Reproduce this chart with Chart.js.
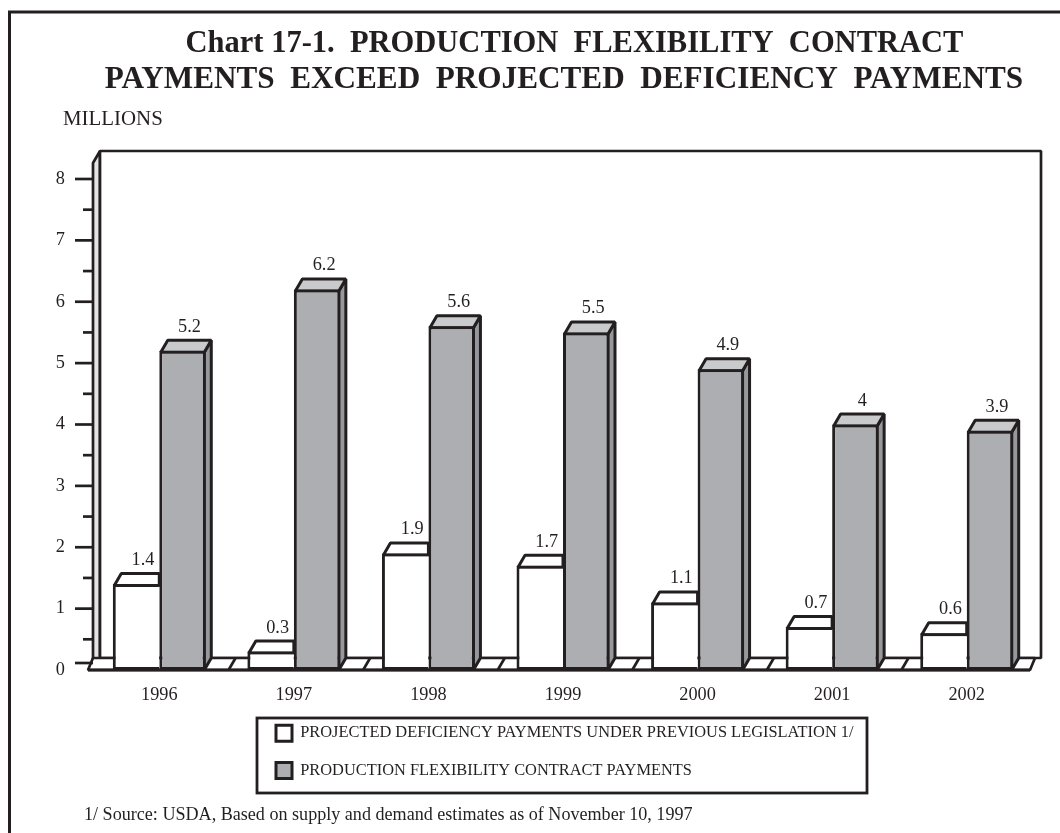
<!DOCTYPE html>
<html><head><meta charset="utf-8">
<style>html,body{margin:0;padding:0;background:#fff}canvas{display:block}</style>
<script src="https://cdn.jsdelivr.net/npm/chart.js@4"></script>
</head><body><canvas id="c" width="1060" height="833"></canvas>
<script>
const years = ['1996','1997','1998','1999','2000','2001','2002'];
const deficiency = [1.4,0.3,1.9,1.7,1.1,0.7,0.6];
const flexibility = [5.2,6.2,5.6,5.5,4.9,4,3.9];
const seriesNames = ['PROJECTED DEFICIENCY PAYMENTS UNDER PREVIOUS LEGISLATION 1/','PRODUCTION FLEXIBILITY CONTRACT PAYMENTS'];
const titleLines = ['Chart 17-1.  PRODUCTION  FLEXIBILITY  CONTRACT','PAYMENTS  EXCEED  PROJECTED  DEFICIENCY  PAYMENTS'];
const yLabel = 'MILLIONS';
const footnote = '1/ Source: USDA, Based on supply and demand estimates as of November 10, 1997';

const INK='#231f20', GREY='#adaeb2', CAP='#c9cacc', SIDE='#97989c', WALL='#e4e4e6', SERIF='"Liberation Serif"';
const DX=7, DY=12, LW=3, H=LW/2;
function poly(ctx,pts,fill){
  ctx.beginPath();pts.forEach((p,i)=>i?ctx.lineTo(p[0],p[1]):ctx.moveTo(p[0],p[1]));ctx.closePath();
  if(fill){ctx.fillStyle=fill;ctx.fill();}
  ctx.stroke();
}
const scene={
  id:'scene',
  beforeDraw(chart){
    const {ctx,width}=chart;
    ctx.save();
    ctx.strokeStyle=INK;ctx.lineWidth=3;
    ctx.beginPath();ctx.moveTo(9.5,833);ctx.lineTo(9.5,12);ctx.lineTo(width,12);ctx.stroke();
    ctx.lineWidth=2.8;
    ctx.strokeRect(257,718,610,75);
    ctx.fillStyle=INK;ctx.textBaseline='alphabetic';ctx.textAlign='center';
    ctx.font='bold 30.5px '+SERIF;
    ctx.fillText(titleLines[0],574.5,52);
    ctx.font='bold 31.2px '+SERIF;
    ctx.fillText(titleLines[1],564,88);
    ctx.restore();
    chart.legend.left=255;chart.legend.right=865;chart.legend.top=704;chart.legend.bottom=830;
  },
  beforeDatasetsDraw(chart){
    const {ctx,chartArea:a,scales:{x,y}}=chart;
    const y0=y.getPixelForValue(0);
    ctx.save();
    ctx.strokeStyle=INK;ctx.lineWidth=2.7;ctx.lineJoin='bevel';
    const L=a.left+1, wallL=L+7, wallR=1041, wallB=y0-12, wallT=151;
    poly(ctx,[[L,y0],[L,163],[wallL,wallT],[wallL,wallB]],WALL);
    poly(ctx,[[wallL,wallT],[wallR,wallT],[wallR,wallB],[wallL,wallB]],'#fff');
    const fl=a.left-4, fr=a.right-4;
    poly(ctx,[[fl,y0],[fl+5,wallB],[wallR-6,wallB],[fr,y0]],'#fff');
    for(let i=1;i<years.length;i++){
      const b=(x.getPixelForValue(i-1)+x.getPixelForValue(i))/2+2;
      ctx.beginPath();ctx.moveTo(b,y0);ctx.lineTo(b+DX,wallB);ctx.stroke();
    }
    y.ticks.forEach(t=>{
      const major=Number.isInteger(t.value), p=t.value===0?y0-7:y.getPixelForValue(t.value);
      ctx.beginPath();ctx.moveTo(major?75:83,p);ctx.lineTo(L,p);ctx.stroke();
    });
    ctx.lineWidth=LW;
    const m0=chart.getDatasetMeta(0).data, m1=chart.getDatasetMeta(1).data;
    m0.forEach(b=>{
      const l=b.x-b.width/2+H,r=b.x+b.width/2,t=b.y+H;
      poly(ctx,[[l,t],[l+DX,t-DY],[r,t-DY],[r,t]],'#fff');
    });
    m1.forEach(b=>{
      const l=b.x-b.width/2+H,r=b.x+b.width/2-H,t=b.y+H;
      poly(ctx,[[r,t],[r+DX,t-DY],[r+DX,y0-DY],[r,y0]],SIDE);
      poly(ctx,[[l,t],[l+DX,t-DY],[r+DX,t-DY],[r,t]],CAP);
    });
    ctx.restore();
  },
  afterDatasetsDraw(chart){
    const {ctx,scales:{y}}=chart;
    const y0=y.getPixelForValue(0);
    ctx.save();
    ctx.strokeStyle=INK;ctx.lineWidth=LW;
    ctx.beginPath();ctx.moveTo(chart.chartArea.left-4,y0);ctx.lineTo(chart.chartArea.right-4,y0);ctx.stroke();
    ctx.fillStyle=INK;ctx.textAlign='center';ctx.textBaseline='alphabetic';ctx.font='18.3px '+SERIF;
    [0,1].forEach(d=>{
      const vals=chart.data.datasets[d].data;
      chart.getDatasetMeta(d).data.forEach((b,i)=>{
        ctx.fillText(String(vals[i]),b.x+7,b.y-DY-7);
      });
    });
    ctx.textAlign='left';
    ctx.font='20.9px '+SERIF;ctx.fillText(yLabel,63,125);
    ctx.font='18.1px '+SERIF;ctx.fillText(footnote,84,820);
    ctx.restore();
  }
};
new Chart(document.getElementById('c'),{
  type:'bar',
  data:{labels:years,datasets:[
    {label:seriesNames[0],data:deficiency,backgroundColor:'#fff',borderColor:INK,borderWidth:LW,borderSkipped:'right'},
    {label:seriesNames[1],data:flexibility,backgroundColor:GREY,borderColor:INK,borderWidth:LW,borderSkipped:false}
  ]},
  plugins:[scene],
  options:{
    responsive:false,animation:false,devicePixelRatio:1,
    layout:{padding:{left:0,right:26,top:179,bottom:0}},
    categoryPercentage:0.691,barPercentage:1,
    plugins:{
      tooltip:{enabled:false},
      title:{display:false},
      legend:{position:'chartArea',align:'start',labels:{color:INK,font:{family:SERIF,size:16.4},boxWidth:16,boxHeight:16,padding:21}}
    },
    scales:{
      x:{grid:{display:false,drawTicks:false},border:{display:false},
         afterFit(s){s.height=163;},
         ticks:{color:INK,font:{family:SERIF,size:18.3},padding:14,maxRotation:0}},
      y:{min:0,max:8,grid:{display:false,drawTicks:false},border:{display:false},
         afterFit(s){s.width=92;},
         ticks:{stepSize:0.5,color:INK,font:{family:SERIF,size:18.3},padding:27,
           callback(v){return Number.isInteger(v)?String(v):'';}}}
    }
  }
});
</script></body></html>
